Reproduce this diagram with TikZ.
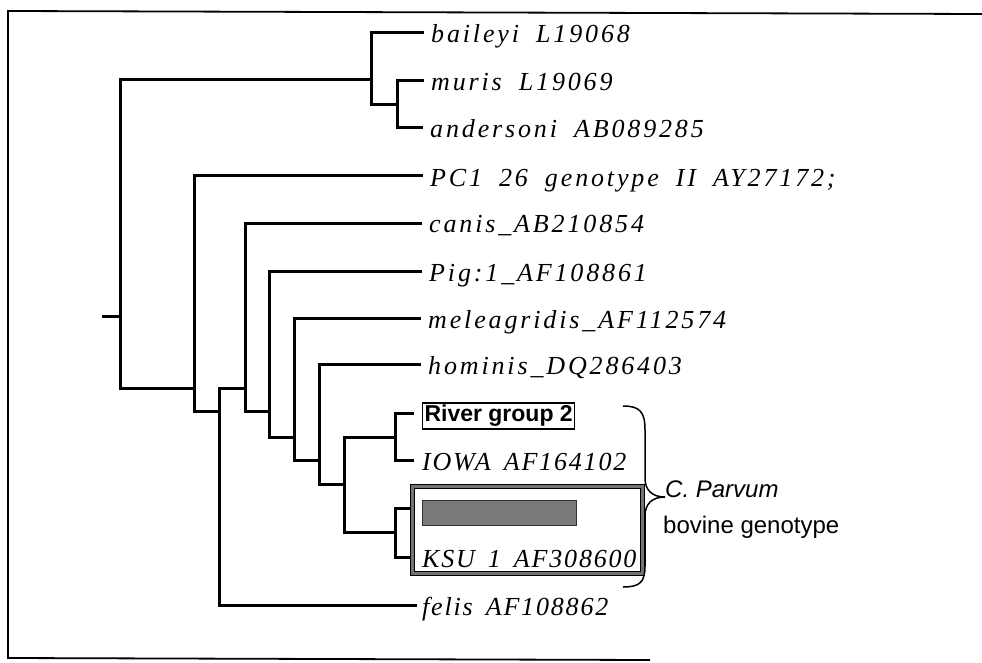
\documentclass[tikz,border=0pt]{standalone}
\usepackage{fontspec}
\setmainfont{Liberation Serif}
\newfontfamily\lblfont[LetterSpace=11]{Liberation Serif}
\newfontfamily\lblfontlow[LetterSpace=7]{Liberation Serif}
\newfontfamily\sansf{Liberation Sans}
\newcommand{\gp}{\hspace*{17pt}}
\newcommand{\gq}{\hspace*{13pt}}
\begin{document}
\begin{tikzpicture}[x=1pt,y=-1pt,
  br/.style={line width=3pt, line cap=rect, black},
  frm/.style={line width=1.8pt, black},
  lbl/.style={anchor=base west, inner sep=0pt, font=\lblfont\itshape\fontsize{26}{26}\selectfont},
  lbllow/.style={anchor=base west, inner sep=0pt, font=\lblfontlow\itshape\fontsize{26}{26}\selectfont},
  sanslbl/.style={anchor=base west, inner sep=0pt, font=\sansf\fontsize{24}{24}\selectfont}]
\useasboundingbox (0,0) rectangle (982,663);
% frame
\coordinate (f1) at (982,14);
\coordinate (f2) at (8,11);
\coordinate (f3) at (8,658);
\coordinate (f4) at (650,660);
\draw[frm] (f1) -- (f2) -- (f3) -- (f4);
% leaves
\coordinate (L1) at (422,33);
\coordinate (L2) at (422,81);
\coordinate (L3) at (421,128);
\coordinate (L4) at (421,176);
\coordinate (L5) at (420,223);
\coordinate (L6) at (420,271);
\coordinate (L7) at (419,318);
\coordinate (L8) at (419,364);
\coordinate (L9) at (412,413);
\coordinate (L10) at (412,460);
\coordinate (L11) at (412,508);
\coordinate (L12) at (412,557);
\coordinate (L13) at (415,605);
% internal nodes
\coordinate (nb) at (371,80);
\coordinate (nma) at (397,105);
\coordinate (root) at (120,316);
\coordinate (stub) at (103,316);
\coordinate (nA) at (194,388);
\coordinate (nB) at (219,411);
\coordinate (nC) at (245,388);
\coordinate (nD) at (269,411);
\coordinate (nE) at (294,437);
\coordinate (nF) at (319,460);
\coordinate (nG) at (344,484);
\coordinate (nH1) at (395,437);
\coordinate (nH2) at (395,532);
% branches
\draw[br] (L1) -| (nb);
\draw[br] (L2) -| (nma) |- (L3);
\draw[br] (nma) -| (nb);
\draw[br] (nb) -| (root) |- (nA);
\draw[br] (stub) -- (root);
\draw[br] (L4) -| (nA) |- (nB);
\draw[br] (nC) -| (nB) |- (L13);
\draw[br] (L5) -| (nC) |- (nD);
\draw[br] (L6) -| (nD) |- (nE);
\draw[br] (L7) -| (nE) |- (nF);
\draw[br] (L8) -| (nF) |- (nG);
\draw[br] (nH1) -| (nG) |- (nH2);
\draw[br] (L9) -| (nH1) |- (L10);
\draw[br] (L11) -| (nH2) |- (L12);
% labels
\node[lbl] (t1) at ([shift={(9,10)}]L1) {baileyi\gp L19068};
\node[lbl] (t2) at ([shift={(9,10)}]L2) {muris\gp L19069};
\node[lbl] (t3) at ([shift={(9,10)}]L3) {andersoni\gp AB089285};
\node[lbl] (t4) at ([shift={(9,10)}]L4) {PC1\gp 26\gp genotype\gp II\gp AY27172;};
\node[lbl] (t5) at ([shift={(9,10)}]L5) {canis\_AB210854};
\node[lbl] (t6) at ([shift={(9,10)}]L6) {Pig:1\_AF108861};
\node[lbl] (t7) at ([shift={(9,10)}]L7) {meleagridis\_AF112574};
\node[lbl] (t8) at ([shift={(9,10)}]L8) {hominis\_DQ286403};
\node[draw, line width=1.3pt, fill=white, anchor=west, minimum width=152pt, minimum height=26pt, inner sep=0pt,
      font=\sansf\bfseries\fontsize{23}{23}\selectfont] (t9) at ([shift={(10,3)}]L9) {River group 2};
\node[lbllow] (t10) at ([shift={(10,10)}]L10) {IOWA\gq AF164102};
% KSU frame and grey bar
\coordinate (k1) at (412,486);
\coordinate (k2) at (642,573);
\draw[line width=4pt, black!55] (k1) rectangle (k2);
\draw[line width=0.8pt, black] ([shift={(-2,-2)}]k1) rectangle ([shift={(2,2)}]k2);
\draw[line width=0.8pt, black] ([shift={(2,2)}]k1) rectangle ([shift={(-2,-2)}]k2);
\coordinate (g1) at (422,500);
\coordinate (g2) at (576,525);
\draw[fill=black!52, draw=black!80, line width=0.8pt] (g1) rectangle (g2) node[coordinate] (t11) {};
\node[lbllow] (t12) at ([shift={(10,10)}]L12) {KSU\gq 1\gq AF308600};
\node[lbllow] (t13) at ([shift={(7,10)}]L13) {felis\gq AF108862};
% brace
\coordinate (bt) at (623,406);
\coordinate (bm) at (665,497);
\coordinate (bb) at (623,587);
\draw[line width=1.5pt] (bt) .. controls (640,406) and (645,412) .. (645,430)
  -- (645,478) .. controls (645,490) and (652,497) .. (bm)
  .. controls (652,497) and (645,504) .. (645,516)
  -- (645,566) .. controls (645,582) and (640,587) .. (bb);
\node[sanslbl, font=\sansf\itshape\fontsize{24}{24}\selectfont] (c1) at (bm) {C. Parvum};
\node[sanslbl] (c2) at (663,533) {bovine genotype};
\end{tikzpicture}
\end{document}
